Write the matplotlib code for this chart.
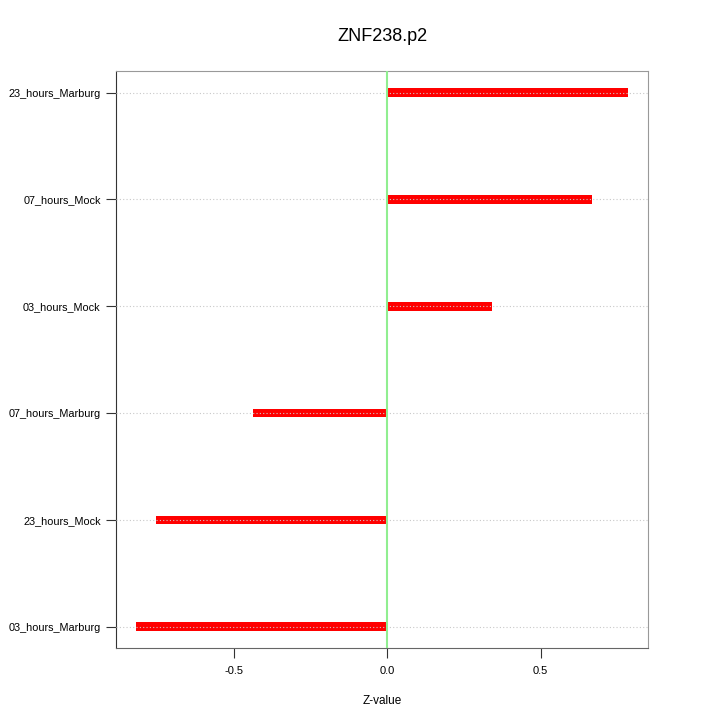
import matplotlib
matplotlib.use("Agg")
import matplotlib.pyplot as plt

plt.rcParams["font.family"] = ["Liberation Sans", "DejaVu Sans"]

conditions = ["03_hours_Marburg", "23_hours_Mock", "07_hours_Marburg",
              "03_hours_Mock", "07_hours_Mock", "23_hours_Marburg"]
zvals = [-0.817, -0.752, -0.438, 0.343, 0.667, 0.784]

fig = plt.figure(figsize=(7.2, 7.2), dpi=100)
ax = fig.add_axes([0.161, 0.1, 0.739, 0.801])

ypos = list(range(len(conditions)))
ax.barh(ypos, zvals, height=0.08, left=0, color="red", zorder=2)
for y in ypos:
    ax.axhline(y, color="#c8c8c8", linestyle=(0, (1, 2)), linewidth=0.8, zorder=3)
ax.axvline(0, color="#90ee90", linewidth=1.5, zorder=4)

ax.set_xlim(-0.884, 0.85)
ax.set_ylim(-0.2, 5.2)
ax.set_yticks(ypos)
ax.set_yticklabels(conditions, fontsize=7.8)
ax.set_xticks([-0.5, 0, 0.5])
ax.set_xticklabels(["-0.5", "0.0", "0.5"], fontsize=8)
ax.set_xlabel("Z-value", fontsize=8.5, labelpad=14)
ax.set_title("ZNF238.p2", fontsize=13, pad=22)

for s in ax.spines.values():
    s.set_color("#999999")
ax.spines["left"].set_color("#333333")
ax.spines["bottom"].set_color("#666666")
ax.tick_params(axis="y", length=7, color="#333333", pad=4)
ax.tick_params(axis="x", length=7, color="#333333", pad=6)

fig.savefig("out.png", dpi=100)
